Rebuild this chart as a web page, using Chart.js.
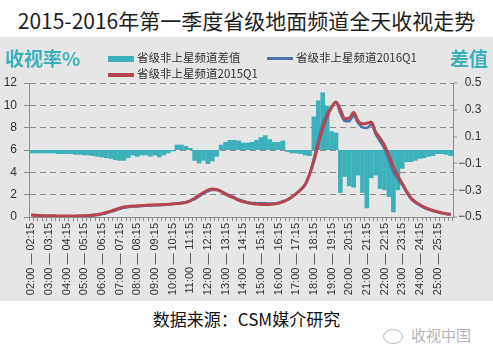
<!DOCTYPE html>
<html>
<head>
<meta charset="utf-8">
<script src="https://cdn.jsdelivr.net/npm/chart.js@4.4.0/dist/chart.umd.min.js"></script>
<style>
  body { margin: 0; width: 493px; height: 358px; background: #fff; position: relative; overflow: hidden;
         font-family: "Noto Sans CJK SC", "Noto Sans", sans-serif; }
  #title { position: absolute; left: 0; top: 5px; width: 493px; text-align: center; font-size: 21px;
           line-height: 30px; color: #1e1e1e; }
  #panel { position: absolute; left: 0; top: 37px; width: 493px; height: 264px; background: #e6e6e6; }
  #panel canvas { position: absolute; left: 0; top: 0; }
  .axname { position: absolute; top: 10px; font-size: 19px; font-weight: bold; line-height: 22px; color: #3db1ba; }
  .leg { position: absolute; font-size: 11.5px; line-height: 14px; color: #333; white-space: nowrap; }
  .leg i { display: inline-block; width: 26px; margin-right: 3px; vertical-align: middle; }
  #source { position: absolute; left: 0; top: 307px; width: 493px; text-align: center; font-size: 17px;
            line-height: 24px; color: #111; }
  #mark { position: absolute; left: 383px; top: 325px; font-size: 15px; line-height: 20px; color: #b5b5b5; }
  #mark b { display: inline-block; width: 18px; height: 13px; border: 1.5px solid #c4c4c4; border-radius: 50%;
            margin-right: 8px; vertical-align: middle; }
</style>
</head>
<body>
<div id="title">2015-2016年第一季度省级地面频道全天收视走势</div>
<div id="panel">
  <canvas id="chart" width="493" height="264"></canvas>
  <div class="axname" style="left:5px">收视率%</div>
  <div class="axname" style="left:450px">差值</div>
  <div class="leg" style="left:108px;top:13px"><i style="height:6px;background:#3db1ba"></i>省级非上星频道差值</div>
  <div class="leg" style="left:267px;top:13px"><i style="height:3px;background:#4f73a8"></i>省级非上星频道2016Q1</div>
  <div class="leg" style="left:108px;top:29px"><i style="height:4px;background:#b4464f"></i>省级非上星频道2015Q1</div>
</div>
<div id="source">数据来源：CSM媒介研究</div>
<div id="mark"><b></b>收视中国</div>

<script>
// hourly tick labels, one every 4 quarter-hour slots
const tickLabels = [
  '02:00 — 02:15', '03:00 — 03:15', '04:00 — 04:15', '05:00 — 05:15', '06:00 — 06:15', '07:00 — 07:15',
  '08:00 — 08:15', '09:00 — 09:15', '10:00 — 10:15', '11:00 — 11:15', '12:00 — 12:15', '13:00 — 13:15',
  '14:00 — 14:15', '15:00 — 15:15', '16:00 — 16:15', '17:00 — 17:15', '18:00 — 18:15', '19:00 — 19:15',
  '20:00 — 20:15', '21:00 — 21:15', '22:00 — 22:15', '23:00 — 23:15', '24:00 — 24:15', '25:00 — 25:15'
];
const quarters = [':00', ':15', ':30', ':45'];

// difference 2016Q1 - 2015Q1 (right axis)
const diffValues = [
  -0.025, -0.025, -0.025, -0.025, -0.025, -0.025, -0.03, -0.03, -0.03, -0.03, -0.035, -0.035,
  -0.04, -0.04, -0.045, -0.05, -0.055, -0.06, -0.065, -0.075, -0.08, -0.08, -0.06, -0.04,
  -0.05, -0.04, -0.04, -0.05, -0.04, -0.055, -0.04, -0.025, -0.01, 0.04, 0.04, 0.03,
  0.015, -0.08, -0.1, -0.08, -0.105, -0.085, -0.05, 0.04, 0.06, 0.075, 0.075, 0.07,
  0.055, 0.055, 0.06, 0.075, 0.095, 0.11, 0.08, 0.06, 0.06, 0.07, -0.015, -0.025,
  -0.025, -0.03, -0.04, -0.045, 0.25, 0.37, 0.43, 0.33, 0.14, 0.13, -0.32, -0.2,
  -0.27, -0.28, -0.19, -0.32, -0.435, -0.21, -0.19, -0.29, -0.3, -0.35, -0.465, -0.3,
  -0.14, -0.09, -0.09, -0.08, -0.065, -0.06, -0.05, -0.045, -0.03, -0.03, -0.035, -0.045
];

// rating % 2016Q1
const rating2016 = [
  0.18, 0.13, 0.11, 0.1, 0.1, 0.09, 0.07, 0.07, 0.07, 0.07, 0.07, 0.08,
  0.08, 0.1, 0.13, 0.17, 0.25, 0.34, 0.46, 0.58, 0.72, 0.82, 0.89, 0.94,
  0.95, 0.98, 1.01, 1.02, 1.05, 1.05, 1.08, 1.12, 1.16, 1.24, 1.28, 1.33,
  1.47, 1.6, 1.85, 2.12, 2.3, 2.42, 2.41, 2.32, 2.11, 1.93, 1.76, 1.57,
  1.43, 1.33, 1.26, 1.24, 1.23, 1.23, 1.21, 1.22, 1.28, 1.42, 1.54, 1.78,
  2.08, 2.42, 2.86, 3.76, 5.25, 6.87, 8.33, 9.3, 9.85, 10.3, 9.28, 8.6,
  8.58, 9.07, 8.41, 8.03, 7.97, 8.29, 7.41, 6.76, 6.1, 5.15, 4.04, 3.4,
  2.86, 2.21, 1.61, 1.27, 1.04, 0.82, 0.67, 0.54, 0.44, 0.34, 0.27, 0.2
];

// rating % 2015Q1
const rating2015 = [
  0.2, 0.15, 0.13, 0.12, 0.12, 0.11, 0.1, 0.1, 0.1, 0.1, 0.1, 0.11,
  0.12, 0.14, 0.17, 0.22, 0.3, 0.4, 0.52, 0.65, 0.8, 0.9, 0.95, 0.98,
  1.0, 1.02, 1.05, 1.07, 1.09, 1.1, 1.12, 1.14, 1.17, 1.2, 1.24, 1.3,
  1.45, 1.68, 1.95, 2.2, 2.4, 2.5, 2.46, 2.28, 2.05, 1.85, 1.68, 1.5,
  1.37, 1.27, 1.2, 1.16, 1.13, 1.12, 1.13, 1.16, 1.22, 1.35, 1.55, 1.8,
  2.1, 2.45, 2.9, 3.8, 5.0, 6.5, 7.9, 9.0, 9.8, 10.3, 9.6, 8.8,
  8.85, 9.35, 8.6, 8.35, 8.4, 8.5, 7.6, 7.05, 6.4, 5.5, 4.5, 3.7,
  3.0, 2.3, 1.7, 1.35, 1.1, 0.88, 0.72, 0.58, 0.47, 0.37, 0.3, 0.24
];

// quarter-hour slots, four per hour label
const slots = [];
tickLabels.forEach(label => {
  const hour = label.slice(0, 2);
  quarters.forEach(q => slots.push(hour + q));
});

const teal = '#3db1ba';
const axisGray = '#8c8c8c';
const textColor = '#333';

Chart.defaults.font.family = '"Liberation Sans", "Noto Sans CJK SC", sans-serif';

const ctx = document.getElementById('chart').getContext('2d');

new Chart(ctx, {
  type: 'bar',
  data: {
    labels: slots,
    datasets: [
      {
        type: 'line',
        label: '省级非上星频道2015Q1',
        data: rating2015,
        yAxisID: 'y',
        borderColor: '#b4464f',
        borderWidth: 3,
        pointRadius: 0,
        cubicInterpolationMode: 'monotone',
        order: 0
      },
      {
        type: 'line',
        label: '省级非上星频道2016Q1',
        data: rating2016,
        yAxisID: 'y',
        borderColor: '#4f73a8',
        borderWidth: 2.5,
        pointRadius: 0,
        cubicInterpolationMode: 'monotone',
        order: 1
      },
      {
        label: '省级非上星频道差值',
        data: diffValues,
        yAxisID: 'y2',
        backgroundColor: teal,
        borderWidth: 0,
        barPercentage: 1.06,
        categoryPercentage: 1,
        order: 2
      }
    ]
  },
  options: {
    responsive: false,
    animation: false,
    layout: {
      padding: { top: 46, left: 0, right: 0, bottom: 0 }
    },
    plugins: {
      legend: { display: false },
      title: { display: false },
      tooltip: { enabled: false }
    },
    scales: {
      x: {
        offset: true,
        grid: {
          drawOnChartArea: false,
          tickLength: 4,
          tickColor: axisGray
        },
        border: { color: axisGray },
        ticks: {
          autoSkip: false,
          maxRotation: 90,
          minRotation: 90,
          padding: 2,
          color: textColor,
          font: { size: 11 },
          callback: (value, index) => index % 4 === 0 ? tickLabels[index / 4] : ''
        },
        afterFit: scale => { scale.height = 84; }
      },
      y: {
        position: 'left',
        min: 0,
        max: 12,
        ticks: {
          stepSize: 2,
          padding: 7,
          color: textColor,
          font: { size: 12 }
        },
        grid: {
          color: c => c.tick && c.tick.value === 0 ? 'rgba(0,0,0,0)' : '#8a8a8a',
          tickColor: axisGray,
          tickLength: 5
        },
        border: { color: axisGray, dash: [6, 4] },
        afterFit: scale => { scale.width = 29; }
      },
      y2: {
        position: 'right',
        min: -0.5,
        max: 0.5,
        ticks: {
          stepSize: 0.1,
          padding: 1,
          color: textColor,
          font: { size: 12 },
          callback: value => {
            const v = Math.round(value * 10) / 10;
            if (v === 0) return '\u20070';
            return v < 0 ? '\u2212' + Math.abs(v).toFixed(1) : '\u2007' + v.toFixed(1);
          }
        },
        grid: {
          color: c => c.tick && Math.abs(c.tick.value) < 1e-9 ? teal : 'rgba(0,0,0,0)',
          lineWidth: c => c.tick && Math.abs(c.tick.value) < 1e-9 ? 3 : 0,
          tickColor: axisGray,
          tickWidth: 1,
          tickLength: 4
        },
        border: { color: axisGray },
        afterFit: scale => { scale.width = 40; }
      }
    }
  }
});
</script>
</body>
</html>
